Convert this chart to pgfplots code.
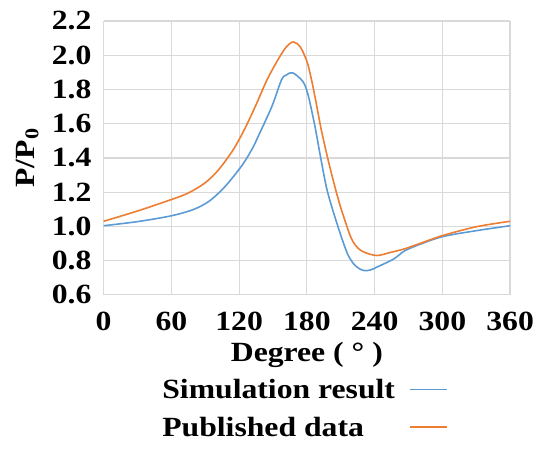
\documentclass[border=0pt]{standalone}
\usepackage{pgfplots}
\pgfplotsset{compat=1.18}
\usepackage{fontspec}
\setmainfont[FakeStretch=1.14]{Liberation Serif}
\definecolor{simblue}{RGB}{91,155,213}
\definecolor{puborange}{RGB}{237,125,49}
\definecolor{gridgray}{RGB}{217,217,217}
\begin{document}
\begin{tikzpicture}
\begin{axis}[
    scale only axis,
    width=408bp, height=275bp,
    xmin=0, xmax=360, ymin=0.6, ymax=2.2,
    xtick={0,60,...,360},
    ytick={0.6,0.8,...,2.21},
    xticklabel={\pgfmathprintnumber[assume math mode=true]{\tick}},
    yticklabel={\pgfmathprintnumber[assume math mode=true,fixed,fixed zerofill,precision=1]{\tick}},
    tick label style={font=\fontsize{28}{30}\selectfont\bfseries, inner sep=0pt},
    xticklabel style={anchor=north, yshift=-17bp},
    yticklabel style={anchor=east, xshift=-12bp},
    major tick length=0pt,
    axis line style={draw=none},
    grid=major,
    grid style={gridgray, line width=1.2bp},
    xlabel={Degree ( ° )},
    xlabel style={font=\fontsize{28}{30}\selectfont\bfseries, at={(axis description cs:0.5,0)}, anchor=base, yshift=-67bp, inner sep=0pt},
    ylabel={P/P\textsubscript{0}},
    ylabel style={font=\fontsize{28}{30}\selectfont\bfseries, at={(axis description cs:-0.188,0.5)}, anchor=center, inner sep=0pt},
    legend plot pos=right,
    legend image code/.code={\draw[#1, line width=2bp] (0bp,0bp) -- (37bp,0bp);},
    legend style={draw=none, fill=none, inner sep=0pt,
        at={(axis description cs:0.144,-0.31)}, anchor=north west,
        font=\fontsize{28}{30}\selectfont\bfseries,
        row sep=19bp,
        cells={anchor=west},
        nodes={inner sep=0pt, text height=19bp, text depth=0bp},
        /tikz/every odd column/.append style={column sep=14bp}},
    clip=false,
]
\addplot[simblue, line width=1.6bp, smooth] coordinates {
    (0,1.004) (30,1.028) (60,1.062) (80,1.10) (94,1.15) (108,1.236)
    (123,1.36) (132,1.458) (137,1.527) (149,1.70) (157.5,1.855)
    (162,1.885) (167.5,1.897) (176.5,1.846) (181,1.77) (187,1.59) (192,1.41)
    (198,1.21) (207,1.01) (216,0.84) (223,0.77) (230,0.743) (236,0.745)
    (242,0.762) (257,0.81) (266,0.855) (278,0.89) (300,0.94)
    (330,0.975) (360,1.004)
};
\addlegendentry{Simulation result}
\addplot[puborange, line width=1.6bp, smooth] coordinates {
    (0,1.03) (30,1.09) (60,1.157) (75,1.195) (90,1.255) (102,1.332)
    (115,1.45) (125,1.57) (135,1.71) (145,1.86) (155,1.98) (162,2.05)
    (168,2.077) (174,2.05) (180,1.965) (184,1.86) (188,1.73)
    (192.6,1.57) (198.4,1.40) (204.3,1.245) (210,1.11) (219,0.936)
    (225,0.875) (231,0.849) (242,0.83) (254,0.848) (266,0.868)
    (280,0.90) (300,0.946) (330,0.998) (360,1.03)
};
\addlegendentry{Published data}
\coordinate (bl) at (rel axis cs:0,0);
\coordinate (tr) at (rel axis cs:1,1);
\end{axis}
\pgfresetboundingbox
\path ([shift={(-104bp,-155bp)}]bl) rectangle ([shift={(26bp,21bp)}]tr);
\end{tikzpicture}
\end{document}
